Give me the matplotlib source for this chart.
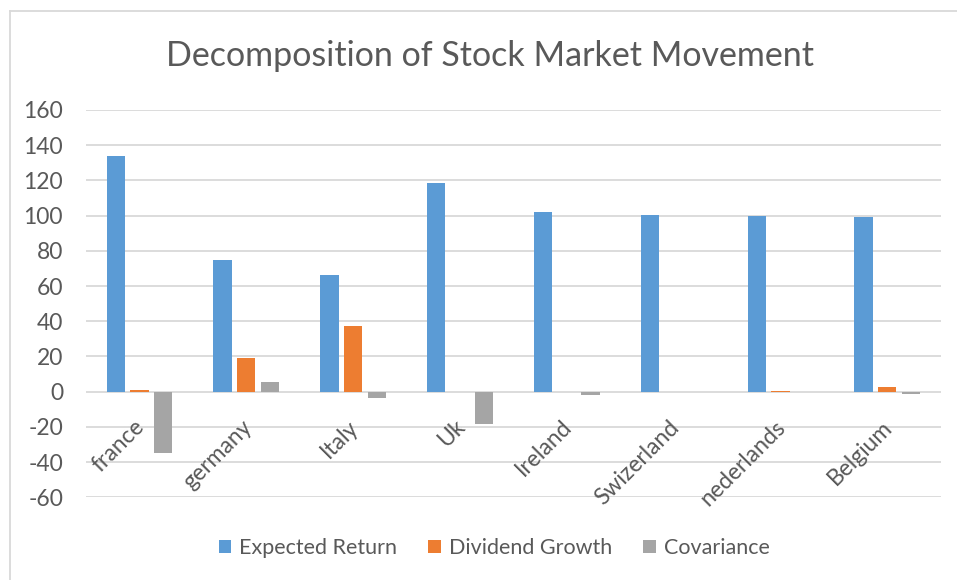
import matplotlib
matplotlib.use("Agg")
import matplotlib.pyplot as plt
import numpy as np
from matplotlib.lines import Line2D
from matplotlib.patches import Patch
from matplotlib.transforms import offset_copy

plt.rcParams['font.family'] = ['Lato', 'DejaVu Sans']

categories = ["france", "germany", "Italy", "Uk", "Ireland", "Swizerland", "nederlands", "Belgium"]
expected_return = [134, 75, 66.3, 118.5, 101.8, 100.1, 99.7, 99]
dividend_growth = [1.1, 19.2, 37.3, 0, 0, 0, 0.5, 2.5]
covariance = [-34.8, 5.7, -3.4, -18.4, -1.7, -0.1, -0.2, -1.2]
series_names = ["Expected Return", "Dividend Growth", "Covariance"]
colors = ["#5B9BD5", "#ED7D31", "#A5A5A5"]
yticks = list(range(-60, 161, 20))

W, H = 957, 580
fig = plt.figure(figsize=(W / 100, H / 100), dpi=100)
ax = fig.add_axes([86 / W, 1 - 497.3 / H, (940.7 - 86) / W, (497.3 - 110) / H])

x = np.arange(len(categories))
step = 0.222
bw = 0.171
for k, (vals, c) in enumerate(zip([expected_return, dividend_growth, covariance], colors)):
    ax.bar(x + (k - 1) * step, vals, width=bw, color=c, zorder=3)

ax.set_xlim(-0.5, len(categories) - 0.5)
ax.set_ylim(-60, 160)
ax.set_yticks(yticks)
ax.set_yticklabels([str(t) for t in yticks], fontsize=16.5, color="#595959")
ax.tick_params(axis='y', length=0, pad=16.5)
ax.set_xticks([])
ax.grid(axis='y', color="#D9D9D9", linewidth=1.3, zorder=0)
for s in ax.spines.values():
    s.set_visible(False)

toff = offset_copy(ax.transData, fig=fig, x=2, y=-32, units='dots')
for i, lab in enumerate(categories):
    ax.text(i, 0, lab, rotation=45, rotation_mode='anchor', ha='right', va='center',
            fontsize=16.5, color="#595959", transform=toff, zorder=4)

fig.text(0.512, 1 - 56 / H, "Decomposition of Stock Market Movement", ha='center', va='center',
         fontsize=24.5, color="#595959")

handles = [Patch(facecolor=c, edgecolor='none') for c in colors]
fig.legend(handles, series_names, loc='center', bbox_to_anchor=(494 / W, 1 - 548 / H), ncol=3,
           frameon=False, fontsize=15.5, labelcolor="#595959", handlelength=0.6, handleheight=0.6,
           handletextpad=0.35, columnspacing=1.45)

fig.add_artist(Line2D([10 / W, 10 / W], [0, 1 - 11 / H], transform=fig.transFigure, color="#D9D9D9", lw=1.3))
fig.add_artist(Line2D([10 / W, 1], [1 - 11 / H, 1 - 11 / H], transform=fig.transFigure, color="#D9D9D9", lw=1.3))

fig.savefig("out.png", dpi=100, facecolor='white')
